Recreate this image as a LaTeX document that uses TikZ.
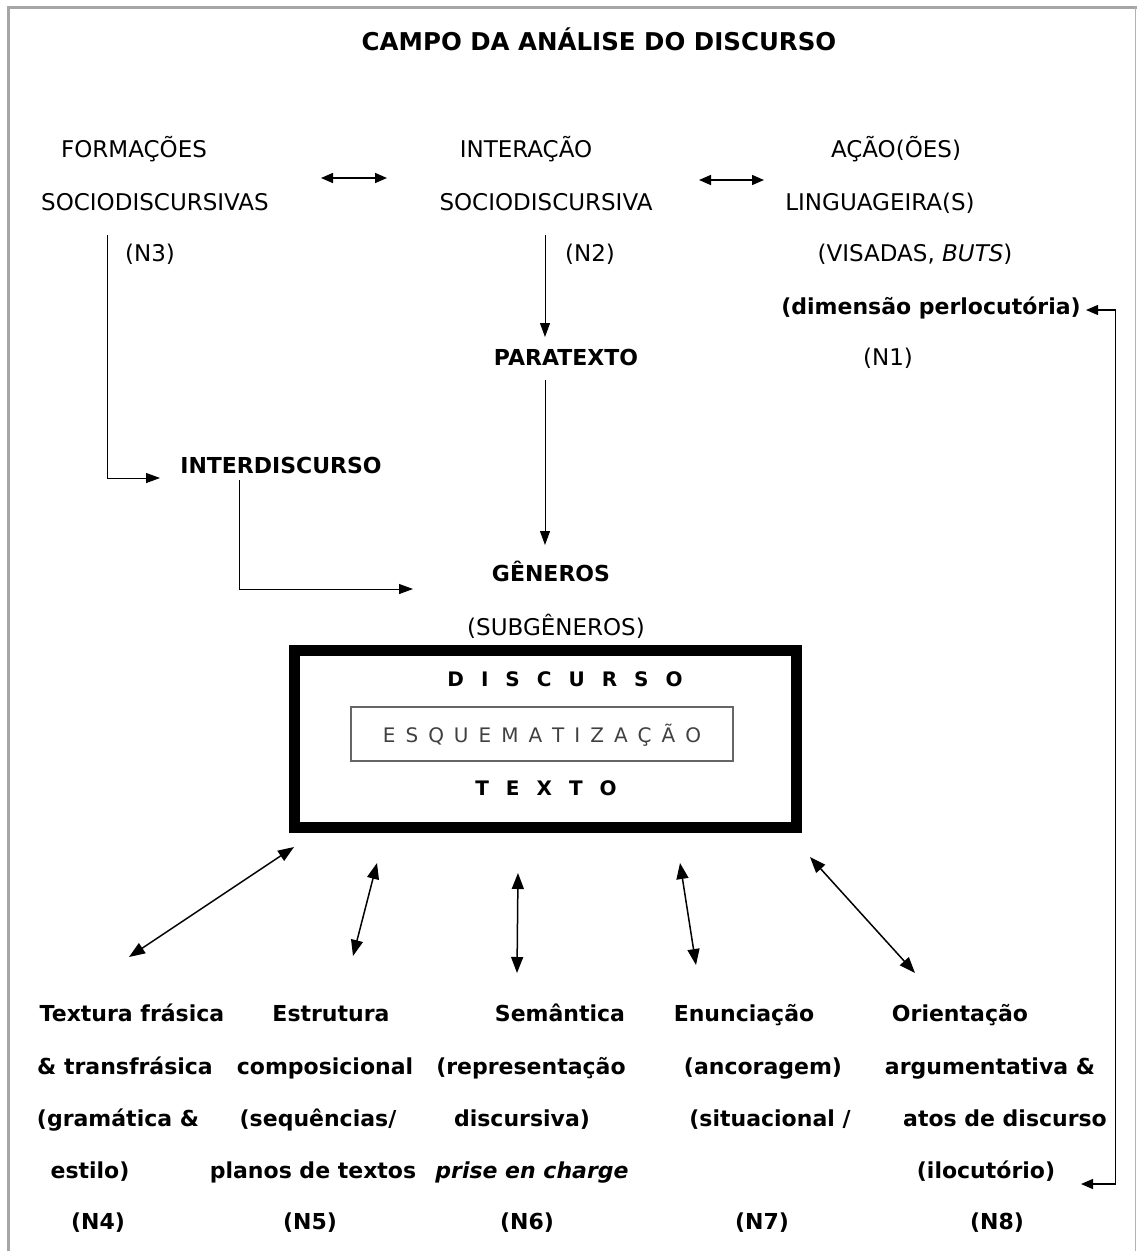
\documentclass[tikz,border=0pt]{standalone}
\usepackage{fontspec}
\setmainfont{DejaVu Sans}
\usetikzlibrary{arrows.meta}

% letter-spaced words
\newlength\lettergap
\def\spacedrest#1{\ifx#1\relax\else\hskip\lettergap\relax#1\expandafter\spacedrest\fi}
\def\spacedfirst#1{#1\spacedrest}
\newcommand\spaced[2]{\setlength\lettergap{#1}\spacedfirst#2\relax}

\begin{document}
\begin{tikzpicture}[x=1pt, y=-1pt,
  every node/.style={inner sep=0pt, text height=17pt, text depth=0.5pt, font=\fontsize{23}{27}\selectfont},
  bold/.style={font=\fontsize{22}{26}\selectfont\bfseries, text height=16.5pt, text depth=0pt},
  tip/.style={-{Triangle[length=14pt,width=10pt]}, line width=1pt},
  both/.style={{Triangle[length=12pt,width=10pt]}-{Triangle[length=12pt,width=10pt]}, line width=1.6pt},
  bigboth/.style={{Triangle[length=16pt,width=12pt]}-{Triangle[length=16pt,width=12pt]}, line width=1.5pt}]

  \useasboundingbox (0,0) rectangle (1137,1251);
  % frame
  \draw[gray!70, line width=3pt] (8.5,1251) -- (8.5,7) -- (1137,7);
  \draw[gray!60, line width=1pt] (1135.5,7) -- (1135.5,1251);

  \node[font=\fontsize{24.5}{28}\selectfont\bfseries, text depth=0pt] (title) at (599,42) {CAMPO DA ANÁLISE DO DISCURSO};

  % upper level
  \node (form1) at (134,149) {FORMAÇÕES};
  \node (form2) at (155,202) {SOCIODISCURSIVAS};
  \node (n3) at (150,253) {(N3)};
  \node (inter1) at (526,149) {INTERAÇÃO};
  \node (inter2) at (546,202) {SOCIODISCURSIVA};
  \node (n2) at (590,253) {(N2)};
  \node (acao1) at (896,149) {AÇÃO(ÕES)};
  \node (acao2) at (880,202) {LINGUAGEIRA(S)};
  \node (acao3) at (915,253) {(VISADAS, \textit{BUTS})};
  \node[bold] (perlo) at (931,306) {(dimensão perlocutória)};
  \node (n1) at (888,357) {(N1)};
  \node[bold] (para) at (566,357) {PARATEXTO};
  \node[bold] (interd) at (281,465) {INTERDISCURSO};
  \node[bold] (gen) at (551,573) {GÊNEROS};
  \node (subgen) at (556,627) {(SUBGÊNEROS)};

  % central box
  \node[draw, line width=11pt, minimum width=502pt, minimum height=177pt] (box) at (545.5,739) {};
  \node[font=\fontsize{20}{24}\selectfont\bfseries, text height=14.5pt, text depth=0pt] (disc) at (565,679) {\spaced{17pt}{DISCURSO}};
  \node[draw=gray!80!black, line width=1.2pt, minimum width=382pt, minimum height=54pt,
        text=black!75, font=\fontsize{20}{24}\selectfont] (esq) at (542,734) {\spaced{10pt}{ESQUEMATIZAÇÃO}};
  \node[font=\fontsize{20}{24}\selectfont\bfseries, text height=14.5pt, text depth=0pt] (texto) at (546,788) {\spaced{17pt}{TEXTO}};

  % lower level
  \node[bold] (t1a) at (132,1013) {Textura frásica};
  \node[bold] (t1b) at (125,1066) {\& transfrásica};
  \node[bold] (t1c) at (118,1118) {(gramática \&};
  \node[bold] (t1d) at (90,1170) {estilo)};
  \node[bold] (n4) at (98,1221) {(N4)};
  \node[bold] (t2a) at (331,1013) {Estrutura};
  \node[bold] (t2b) at (325,1066) {composicional};
  \node[bold] (t2c) at (318,1118) {(sequências/};
  \node[bold] (t2d) at (313,1170) {planos de textos};
  \node[bold] (n5) at (310,1221) {(N5)};
  \node[bold] (t3a) at (560,1013) {Semântica};
  \node[bold] (t3b) at (531,1066) {(representação};
  \node[bold] (t3c) at (522,1118) {discursiva)};
  \node[bold] (t3d) at (532,1170) {\textit{prise en charge}};
  \node[bold] (n6) at (527,1221) {(N6)};
  \node[bold] (t4a) at (744,1013) {Enunciação};
  \node[bold] (t4b) at (763,1066) {(ancoragem)};
  \node[bold] (t4c) at (770,1118) {(situacional /};
  \node[bold] (n7) at (762,1221) {(N7)};
  \node[bold] (t5a) at (960,1013) {Orientação};
  \node[bold] (t5b) at (990,1066) {argumentativa \&};
  \node[bold] (t5c) at (1005,1118) {atos de discurso};
  \node[bold] (t5d) at (986,1170) {(ilocutório)};
  \node[bold] (n8) at (997,1221) {(N8)};

  % arrow ends
  \coordinate (h1a) at (321,178); \coordinate (h1b) at (387,178);
  \coordinate (h2a) at (699,180); \coordinate (h2b) at (764,180);
  \coordinate (n3top) at (107,235); \coordinate (n3tip) at (160,478);
  \coordinate (n2top) at (545,235); \coordinate (paratip) at (545,337);
  \coordinate (parabot) at (545,380); \coordinate (gentip) at (545,545);
  \coordinate (idtop) at (239,480); \coordinate (idtip) at (413,589);
  \coordinate (perlotip) at (1086,310); \coordinate (loopb) at (1115.5,1184);
  \coordinate (iloctip) at (1081,1184);
  \coordinate (up1) at (294,847); \coordinate (dn1) at (129,957);
  \coordinate (up2) at (377,863); \coordinate (dn2) at (353,956);
  \coordinate (up3) at (518,873); \coordinate (dn3) at (517,973);
  \coordinate (up4) at (680,863); \coordinate (dn4) at (696,965);
  \coordinate (up5) at (810,857); \coordinate (dn5) at (915,973);

  \draw[both] (h1a) -- (h1b);
  \draw[both] (h2a) -- (h2b);
  \draw[tip] (n3top) |- (n3tip);
  \draw[tip] (n2top) -- (paratip);
  \draw[tip] (parabot) -- (gentip);
  \draw[tip] (idtop) |- (idtip);
  \draw[both, line width=1.3pt] (perlotip) -| (loopb) -- (iloctip);
  \foreach \i in {1,...,5}
    \draw[bigboth] (up\i) -- (dn\i);
\end{tikzpicture}
\end{document}
